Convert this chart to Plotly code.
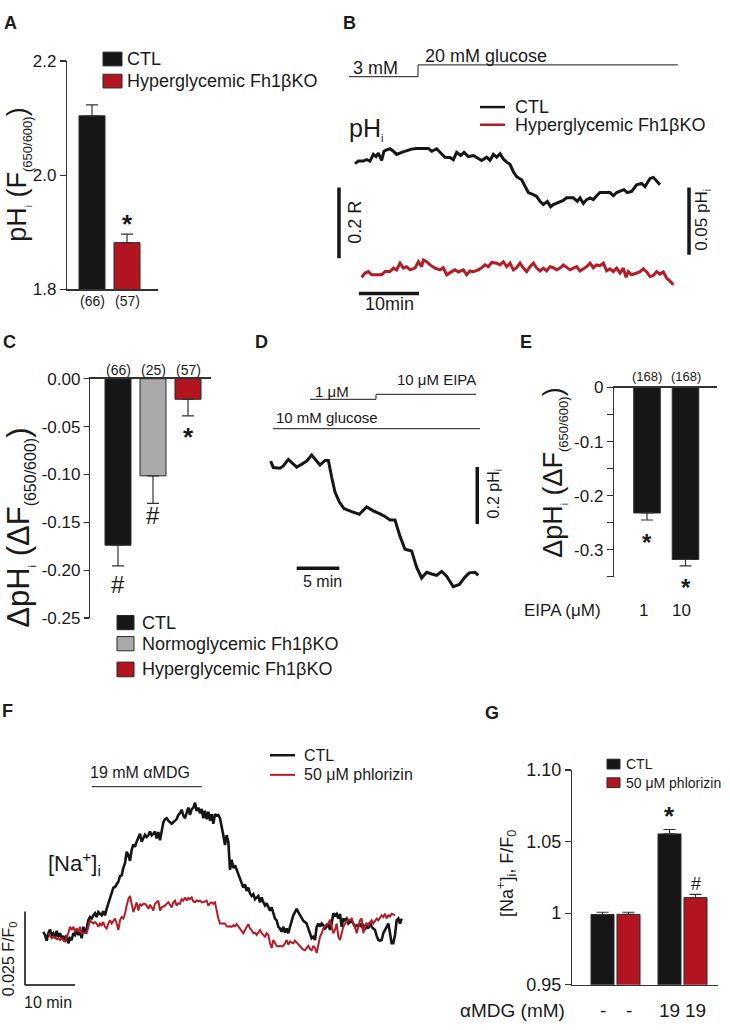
import plotly.graph_objects as go

W, H = 730, 1030
FONT = "Liberation Sans, Arial, Helvetica, sans-serif"
INK = "#1b1b1b"
AXC = "#333333"
BLACK = "#161616"
RED = "#b2151f"
RED_LINE = "#b71c26"
GRAY = "#a9a9a9"
EDGE = "#2b2b2b"

# ======================= DATA =======================
# --- A: resting pHi, F(650/600) ---
a_groups = ["CTL", "Hyperglycemic Fh1βKO"]
a_mean = [2.104, 1.882]
a_sem = [0.019, 0.015]
a_n = ["(66)", "(57)"]
a_tickvals = [1.8, 2.0, 2.2]
a_ticktext = ["1.8", "2.0", "2.2"]

# --- B: pHi traces (ratio R) vs time (min) ---
b_ctl_t = [1.0, 1.56, 2.39, 2.94, 3.5, 4.06, 4.5, 4.89, 5.44, 5.83, 6.28, 6.83, 7.39, 7.94,
           8.78, 9.61, 10.44, 11.28, 12.39, 13.22, 13.78, 14.61, 15.17, 16.0, 16.83, 17.39,
           17.94, 18.61, 19.17, 19.89, 20.72, 21.39, 22.11, 22.94, 23.5, 24.06, 24.61, 25.17,
           25.72, 26.28, 26.83, 27.39, 27.94, 28.78, 29.33, 29.89, 30.72, 31.28, 31.83, 32.39,
           33.06, 33.61, 34.06, 34.89, 35.72, 36.28, 37.39, 38.06, 38.5, 39.06, 39.61, 40.17,
           40.72, 41.28, 41.83, 43.5, 44.06, 44.61, 45.83, 46.39, 47.11, 47.94, 48.78, 49.33,
           50.17, 50.72, 51.28, 51.83]
b_ctl_r = [2.076, 2.083, 2.083, 2.087, 2.083, 2.102, 2.096, 2.106, 2.085, 2.111, 2.115, 2.118,
           2.111, 2.102, 2.108, 2.113, 2.117, 2.119, 2.119, 2.119, 2.111, 2.118, 2.108, 2.094,
           2.093, 2.087, 2.108, 2.099, 2.108, 2.096, 2.099, 2.093, 2.085, 2.094, 2.085, 2.102,
           2.094, 2.104, 2.089, 2.080, 2.074, 2.053, 2.039, 2.030, 2.011, 1.994, 1.988, 1.983,
           1.969, 1.960, 1.969, 1.954, 1.960, 1.965, 1.972, 1.979, 1.979, 1.969, 1.979, 1.963,
           1.974, 1.979, 1.974, 1.985, 1.994, 1.994, 1.985, 1.994, 2.002, 1.994, 1.997, 2.016,
           2.020, 2.011, 2.034, 2.037, 2.025, 2.016]
b_hyp_t = [2.11, 2.67, 3.22, 3.78, 4.61, 5.44, 6.0, 6.83, 7.39, 7.94, 8.5, 9.06, 9.61, 10.17,
           11.0, 11.56, 12.11, 12.39, 12.94, 13.5, 14.33, 15.17, 15.72, 16.28, 17.11, 17.67,
           18.22, 19.06, 19.61, 20.17, 20.72, 21.56, 22.11, 22.67, 23.22, 23.78, 24.61, 25.17,
           25.72, 26.28, 26.83, 27.39, 27.94, 28.5, 29.06, 29.61, 30.17, 30.72, 31.28, 31.83,
           32.39, 32.94, 33.5, 34.06, 34.61, 35.17, 35.72, 36.28, 36.83, 37.39, 37.94, 38.5,
           39.06, 39.61, 40.17, 40.72, 41.28, 41.83, 42.39, 42.94, 43.5, 44.06, 44.61, 45.17,
           45.72, 46.17, 46.56, 47.11, 47.94, 48.5, 49.06, 49.61, 50.17, 50.72, 51.28, 51.83,
           52.39, 52.94, 53.5, 54.06]
b_hyp_r = [1.754, 1.766, 1.770, 1.761, 1.761, 1.761, 1.770, 1.770, 1.780, 1.775, 1.794, 1.780,
           1.784, 1.775, 1.780, 1.798, 1.784, 1.803, 1.798, 1.789, 1.780, 1.775, 1.781, 1.761,
           1.770, 1.775, 1.769, 1.775, 1.761, 1.772, 1.770, 1.775, 1.781, 1.789, 1.784, 1.796,
           1.794, 1.789, 1.798, 1.784, 1.794, 1.775, 1.781, 1.794, 1.780, 1.770, 1.784, 1.794,
           1.780, 1.772, 1.780, 1.772, 1.784, 1.781, 1.775, 1.780, 1.789, 1.781, 1.775, 1.780,
           1.784, 1.772, 1.778, 1.784, 1.794, 1.781, 1.789, 1.787, 1.794, 1.772, 1.778, 1.770,
           1.780, 1.766, 1.780, 1.754, 1.770, 1.761, 1.766, 1.770, 1.778, 1.769, 1.756, 1.759,
           1.770, 1.763, 1.769, 1.752, 1.743, 1.733]
b_series = ["CTL", "Hyperglycemic Fh1βKO"]
b_glucose_labels = ["3 mM", "20 mM glucose"]
b_glucose_switch_min = 11.5
b_glucose_end_min = 54.8
b_scale_R = 0.2          # vertical scale bar, ratio units
b_scale_pH_as_R = 0.19   # 0.05 pHi expressed in R
b_scale_min = 10

# --- C: delta pHi after glucose ---
c_groups = ["CTL", "Normoglycemic Fh1βKO", "Hyperglycemic Fh1βKO"]
c_mean = [-0.174, -0.1015, -0.0215]
c_sem = [0.0215, 0.0287, 0.0174]
c_n = ["(66)", "(25)", "(57)"]
c_sig = ["#", "#", "*"]
c_tickvals = [0, -0.05, -0.10, -0.15, -0.20, -0.25]
c_ticktext = ["0.00", "-0.05", "-0.10", "-0.15", "-0.20", "-0.25"]

# --- D: EIPA trace (pHi) vs time (min) ---
d_t = [0.08, 0.39, 1.17, 1.56, 2.15, 2.54, 3.13, 3.71, 4.30, 4.88, 5.47, 5.86, 6.45, 6.84,
       7.23, 7.62, 8.13, 8.67, 9.57, 10.47, 11.33, 12.11, 12.89, 13.48, 14.06, 14.65, 15.23,
       15.82, 16.60, 17.19, 17.77, 18.36, 18.95, 19.53, 20.12, 20.70, 21.48, 22.19, 22.85,
       23.36, 24.02, 24.41]
d_ph = [7.231, 7.208, 7.206, 7.214, 7.237, 7.225, 7.210, 7.220, 7.231, 7.252, 7.229, 7.217,
        7.233, 7.233, 7.174, 7.122, 7.087, 7.064, 7.053, 7.044, 7.070, 7.056, 7.045, 7.036,
        7.024, 7.024, 6.967, 6.921, 6.915, 6.857, 6.820, 6.840, 6.834, 6.829, 6.843, 6.826,
        6.789, 6.797, 6.823, 6.838, 6.840, 6.829]
d_eipa_on_min, d_eipa_switch_min, d_eipa_end_min = 4.69, 12.42, 24.14
d_glucose_on_min, d_glucose_end_min = 0.35, 24.61
d_scale_pH = 0.2
d_scale_min = 5

# --- E: EIPA dose ---
e_eipa = ["1", "10"]
e_mean = [-0.232, -0.318]
e_sem = [0.013, 0.012]
e_n = ["(168)", "(168)"]
e_tickvals = [0, -0.1, -0.2, -0.3]
e_ticktext = ["0", "-0.1", "-0.2", "-0.3"]
e_minorvals = [-0.05, -0.15, -0.25, -0.35]

# --- F: [Na+]i traces, F/F0, sampled every 20 s ---
f_dt_min = 1.0 / 3.0
f_ctl_start_min = 0.0
f_phl_start_min = 1.0
f_ctl = [1.0011, 1.0000, 0.9981, 1.0006, 1.0019, 1.0000, 1.0006, 0.9989, 1.0014, 0.9994,
         1.0006, 0.9989, 0.9997, 0.9978, 1.0000, 0.9972, 0.9989, 0.9983, 1.0006, 1.0000,
         1.0017, 1.0000, 1.0011, 0.9989, 1.0028, 1.0006, 1.0022, 1.0050, 1.0061, 1.0056,
         1.0067, 1.0074, 1.0061, 1.0078, 1.0072, 1.0067, 1.0081, 1.0067, 1.0089, 1.0106,
         1.0128, 1.0141, 1.0161, 1.0163, 1.0172, 1.0181, 1.0200, 1.0203, 1.0228, 1.0244,
         1.0283, 1.0272, 1.0252, 1.0289, 1.0308, 1.0300, 1.0317, 1.0333, 1.0344, 1.0317,
         1.0328, 1.0341, 1.0333, 1.0339, 1.0352, 1.0339, 1.0344, 1.0352, 1.0328, 1.0350,
         1.0322, 1.0361, 1.0383, 1.0394, 1.0397, 1.0389, 1.0383, 1.0378, 1.0383, 1.0389,
         1.0394, 1.0408, 1.0414, 1.0426, 1.0406, 1.0397, 1.0419, 1.0433, 1.0408, 1.0428,
         1.0433, 1.0450, 1.0422, 1.0433, 1.0414, 1.0428, 1.0397, 1.0422, 1.0394, 1.0419,
         1.0389, 1.0411, 1.0378, 1.0411, 1.0406, 1.0408, 1.0397, 1.0372, 1.0339, 1.0306,
         1.0339, 1.0317, 1.0222, 1.0256, 1.0228, 1.0237, 1.0222, 1.0211, 1.0194, 1.0178,
         1.0161, 1.0172, 1.0150, 1.0161, 1.0141, 1.0133, 1.0139, 1.0122, 1.0128, 1.0133,
         1.0111, 1.0128, 1.0111, 1.0100, 1.0108, 1.0094, 1.0083, 1.0094, 1.0072, 1.0056,
         1.0050, 1.0028, 1.0022, 1.0011, 1.0028, 1.0008, 1.0022, 1.0006, 1.0028, 1.0050,
         1.0067, 1.0078, 1.0089, 1.0078, 1.0067, 1.0061, 1.0048, 1.0044, 1.0039, 1.0022,
         1.0006, 0.9989, 0.9994, 0.9983, 1.0028, 1.0039, 1.0028, 1.0039, 1.0033, 1.0022,
         1.0028, 1.0039, 1.0017, 1.0039, 1.0074, 1.0067, 1.0072, 1.0056, 1.0072, 1.0028,
         1.0056, 1.0050, 1.0056, 1.0039, 1.0044, 1.0048, 1.0039, 1.0028, 1.0033, 1.0030,
         1.0039, 1.0028, 1.0033, 1.0017, 1.0039, 1.0022, 1.0044, 1.0028, 1.0022, 1.0017,
         0.9997, 0.9983, 0.9981, 0.9983, 1.0006, 1.0017, 1.0028, 1.0039, 1.0006, 0.9972,
         0.9972, 1.0000, 1.0050, 1.0056, 1.0039, 1.0056]
f_phl = [1.0006, 0.9997, 0.9989, 0.9994, 0.9992, 0.9986, 0.9989, 0.9983, 0.9989, 0.9981,
         0.9978, 0.9994, 1.0006, 1.0028, 1.0017, 1.0028, 1.0011, 1.0022, 1.0011, 1.0028,
         1.0006, 1.0006, 1.0008, 1.0006, 1.0028, 1.0050, 1.0044, 1.0039, 1.0044, 1.0039,
         1.0028, 1.0039, 1.0033, 1.0044, 1.0028, 1.0022, 1.0039, 1.0050, 1.0039, 1.0050,
         1.0056, 1.0039, 1.0017, 1.0050, 1.0061, 1.0056, 1.0072, 1.0100, 1.0122, 1.0133,
         1.0100, 1.0078, 1.0094, 1.0111, 1.0083, 1.0106, 1.0100, 1.0106, 1.0106, 1.0100,
         1.0089, 1.0103, 1.0094, 1.0083, 1.0106, 1.0111, 1.0117, 1.0083, 1.0094, 1.0097,
         1.0100, 1.0106, 1.0111, 1.0103, 1.0094, 1.0111, 1.0117, 1.0100, 1.0108, 1.0106,
         1.0122, 1.0117, 1.0128, 1.0117, 1.0126, 1.0122, 1.0128, 1.0114, 1.0111, 1.0117,
         1.0114, 1.0117, 1.0111, 1.0111, 1.0114, 1.0117, 1.0100, 1.0108, 1.0111, 1.0106,
         1.0111, 1.0078, 1.0056, 1.0039, 1.0039, 1.0041, 1.0039, 1.0030, 1.0028, 1.0030,
         1.0028, 1.0033, 1.0030, 1.0037, 1.0030, 1.0022, 1.0017, 1.0006, 1.0017, 1.0030,
         1.0037, 1.0022, 1.0017, 1.0006, 1.0008, 1.0000, 1.0011, 1.0017, 1.0006, 1.0000,
         0.9994, 1.0006, 1.0000, 0.9972, 0.9956, 0.9983, 0.9972, 0.9963, 0.9961, 0.9963,
         0.9961, 0.9963, 0.9972, 0.9983, 0.9967, 0.9978, 0.9974, 0.9972, 0.9981, 0.9974,
         0.9967, 0.9961, 0.9956, 0.9950, 0.9948, 0.9956, 0.9963, 0.9952, 0.9948, 0.9963,
         0.9956, 0.9939, 0.9972, 0.9994, 1.0006, 1.0022, 1.0030, 1.0037, 1.0039, 1.0052,
         1.0028, 1.0006, 1.0017, 1.0039, 0.9994, 0.9983, 1.0006, 1.0028, 1.0039, 1.0044,
         1.0052, 1.0050, 1.0056, 1.0039, 1.0028, 1.0006, 1.0028, 1.0050, 1.0056, 1.0006,
         1.0028, 1.0039, 1.0033, 1.0041, 1.0050, 1.0039, 1.0050, 1.0056, 1.0050, 1.0059,
         1.0067, 1.0061, 1.0072, 1.0056, 1.0067, 1.0063, 1.0072, 1.0070, 1.0067]
f_series = ["CTL", "50 μM phlorizin"]
f_amdg_on_min, f_amdg_off_min = 9.7, 31.7
f_scale_ff0 = 0.025
f_scale_min = 10

# --- G: [Na+]i, F/F0 ---
g_amdg = ["0", "19"]
g_amdg_labels = ["-", "19"]
g_ctl_mean = [0.999, 1.0553]
g_ctl_sem = [0.0016, 0.0031]
g_phl_mean = [0.9991, 1.0108]
g_phl_sem = [0.0015, 0.0023]
g_tickvals = [0.95, 1.0, 1.05, 1.10]
g_ticktext = ["0.95", "1", "1.05", "1.10"]

assert len(b_ctl_t) == len(b_ctl_r) and len(b_hyp_t) == len(b_hyp_r) and len(d_t) == len(d_ph)

# ======================= LAYOUT HELPERS =======================
def xdom(a, b):
    return [a / W, b / W]


def ydom(top, bottom):
    return [1 - bottom / H, 1 - top / H]


def px(x):
    return x / W


def py(y):
    return 1 - y / H


def lin_x(left, right, px0, v0, ppu):
    return [v0 + (left - px0) / ppu, v0 + (right - px0) / ppu]


def lin_y(top, bottom, py0, v0, ppu):
    return [v0 - (bottom - py0) / ppu, v0 + (py0 - top) / ppu]


def cat_range(left, right, first_center, spacing):
    return [(left - first_center) / spacing, (right - first_center) / spacing]


def yaxis_num(domain, rng, tickvals, ticktext, anchor, ticklen=6, size=17, minorvals=None):
    ax = dict(domain=domain, range=rng, tickmode="array", tickvals=tickvals, ticktext=ticktext,
              ticks="outside", ticklen=ticklen, tickwidth=1.2, tickcolor=AXC, showline=True,
              linecolor=AXC, linewidth=1.2, showgrid=False, zeroline=False,
              tickfont=dict(size=size, color=INK, family=FONT), anchor=anchor, fixedrange=True)
    if minorvals:
        ax["minor"] = dict(tickmode="array", tickvals=minorvals, ticks="outside", ticklen=ticklen,
                           tickwidth=1.2, tickcolor=AXC, showgrid=False)
    return ax


def xaxis_cat(domain, rng, cats, anchor, side="bottom"):
    return dict(domain=domain, range=rng, type="category", categoryorder="array",
                categoryarray=cats, showline=True, linecolor=AXC, linewidth=1.2, ticks="",
                showticklabels=False, showgrid=False, zeroline=False, anchor=anchor, side=side,
                fixedrange=True)


def hidden(domain, rng, anchor):
    return dict(domain=domain, range=rng, visible=False, showgrid=False, zeroline=False,
                anchor=anchor, fixedrange=True)


def err(sem, up):
    return dict(type="data", symmetric=False,
                array=[s if up else 0 for s in sem],
                arrayminus=[0 if up else s for s in sem],
                color=AXC, thickness=1.2, width=6)


annotations = []
shapes = []


def text(s, x, y, size, xanchor="left", angle=0, bold=False, color=INK):
    if bold:
        s = "<b>" + s + "</b>"
    annotations.append(dict(text=s, x=px(x), y=py(y), xref="paper", yref="paper",
                            xanchor=xanchor, yanchor="middle", showarrow=False,
                            textangle=angle, font=dict(size=size, color=color, family=FONT)))


def cat_text(s, xref, xval, y, size, bold=False, xshift=0):
    if bold:
        s = "<b>" + s + "</b>"
    annotations.append(dict(text=s, x=xval, y=py(y), xref=xref, yref="paper",
                            xanchor="center", yanchor="middle", showarrow=False, xshift=xshift,
                            font=dict(size=size, color=INK, family=FONT)))


def star(xref, xval, glyph_y, size=26):
    # asterisk glyph sits high in its text box; shift anchor down by ~0.21 em
    cat_text("*", xref, xval, glyph_y + 0.21 * size, size, bold=True)


def pline(x0, y0, x1, y1, color=AXC, width=1.2):
    shapes.append(dict(type="line", xref="paper", yref="paper", x0=px(x0), y0=py(y0),
                       x1=px(x1), y1=py(y1), line=dict(color=color, width=width)))


def prect(x0, y0, x1, y1, fill):
    shapes.append(dict(type="rect", xref="paper", yref="paper", x0=px(x0), y0=py(y0),
                       x1=px(x1), y1=py(y1), fillcolor=fill, line=dict(color=EDGE, width=1)))


def dline(xref, yref, x0, y0, x1, y1, color=BLACK, width=3.5):
    shapes.append(dict(type="line", xref=xref, yref=yref, x0=x0, y0=y0, x1=x1, y1=y1,
                       line=dict(color=color, width=width)))


def tline(xref, t0, y0, t1, y1, color="#444444", width=1.2):
    # stimulus bar: time in data units, height in page position
    shapes.append(dict(type="line", xref=xref, yref="paper", x0=t0, y0=py(y0), x1=t1,
                       y1=py(y1), line=dict(color=color, width=width)))


traces = []

# ======================= PANEL A =======================
a_colors = [BLACK, RED]
for i, g in enumerate(a_groups):
    traces.append(go.Bar(x=[g], y=[a_mean[i]], error_y=err([a_sem[i]], True), name=g,
                         marker=dict(color=a_colors[i], line=dict(color=EDGE, width=1)),
                         width=0.743, offsetgroup="a", xaxis="x", yaxis="y", showlegend=False))
prect(103, 43, 122, 57, BLACK)
prect(103, 65.5, 122, 79.5, RED)
text(a_groups[0], 125, 50, 18)
text(a_groups[1], 125, 72.5, 18)
for i, n in enumerate(a_n):
    cat_text(n, "x", i, 297, 14)
star("x", 1, 213)
text('pH<sub><span style="font-size:10px">i</span></sub> (F<sub><span style="font-size:13px">(650/600)</span></sub>)',
     19, 168, 27, xanchor="center", angle=-90)

# ======================= PANEL B =======================
b_colors = [BLACK, RED_LINE]
traces.append(go.Scatter(x=b_ctl_t, y=b_ctl_r, mode="lines", name=b_series[0],
                         line=dict(color=b_colors[0], width=3), xaxis="x2", yaxis="y2",
                         showlegend=False))
traces.append(go.Scatter(x=b_hyp_t, y=b_hyp_r, mode="lines", name=b_series[1],
                         line=dict(color=b_colors[1], width=3), xaxis="x2", yaxis="y2",
                         showlegend=False))
tline("x2", 0, 68, b_glucose_switch_min, 68)
tline("x2", b_glucose_switch_min, 68, b_glucose_switch_min, 56)
tline("x2", b_glucose_switch_min, 56, b_glucose_end_min, 56)
text(b_glucose_labels[0], 351, 59, 18)
text(b_glucose_labels[1], 423, 46.5, 18)
pline(480, 99, 505, 99, BLACK, 2.5)
pline(480, 117, 505, 117, RED_LINE, 2.5)
text(b_series[0], 513, 99, 18)
text(b_series[1], 513, 117, 18)
text('pH<sub><span style="font-size:11px">i</span></sub>', 347, 121, 25)
dline("x2", "y2", -1.67, 2.008, -1.67, 2.008 - b_scale_R)
dline("x2", "y2", 56.67, 2.008, 56.67, 2.008 - b_scale_pH_as_R)
dline("x2", "y2", 1.67, 1.708, 1.67 + b_scale_min, 1.708)
text("0.2 R", 355, 217, 18, xanchor="center", angle=-90)
text('0.05 pH<sub><span style="font-size:10px">i</span></sub>', 703, 214, 17, xanchor="center", angle=-90)
text("10min", 389, 300, 18, xanchor="center")

# ======================= PANEL C =======================
c_colors = [BLACK, GRAY, RED]
for i, g in enumerate(c_groups):
    traces.append(go.Bar(x=[g], y=[c_mean[i]], error_y=err([c_sem[i]], False), name=g,
                         marker=dict(color=c_colors[i], line=dict(color=EDGE, width=1)),
                         width=0.743, offsetgroup="c", xaxis="x3", yaxis="y3", showlegend=False))
for i, n in enumerate(c_n):
    cat_text(n, "x3", i, 367.5, 14)
cat_text(c_sig[0], "x3", 0, 586, 24)
cat_text(c_sig[1], "x3", 1, 516, 24)
star("x3", 2, 430.5)
prect(117, 617.5, 134, 632, BLACK)
prect(117, 639, 134, 653.5, GRAY)
prect(117, 665, 134, 680, RED)
text(c_groups[0], 140, 624.8, 18)
text(c_groups[1], 140, 646.5, 18)
text(c_groups[2], 140, 672.5, 18)
text('ΔpH<sub><span style="font-size:11px">i</span></sub> (ΔF<sub><span style="font-size:16px">(650/600)</span></sub>)',
     20, 528, 31, xanchor="center", angle=-90)

# ======================= PANEL D =======================
traces.append(go.Scatter(x=d_t, y=d_ph, mode="lines", name="pHi", line=dict(color=BLACK, width=3),
                         xaxis="x4", yaxis="y4", showlegend=False))
tline("x4", d_eipa_on_min, 397, d_eipa_switch_min, 397)
tline("x4", d_eipa_switch_min, 397, d_eipa_switch_min, 392)
tline("x4", d_eipa_switch_min, 392, d_eipa_end_min, 392)
tline("x4", d_glucose_on_min, 427, d_glucose_end_min, 427)
text("1 μM", 313, 389.5, 15)
text("10 μM EIPA", 478, 377, 15, xanchor="right")
text("10 mM glucose", 274, 415.5, 15)
dline("x4", "y4", 24.29, 7.21, 24.29, 7.21 - d_scale_pH)
dline("x4", "y4", 3.13, 6.854, 3.13 + d_scale_min, 6.854)
text("5 min", 322, 582.5, 16, xanchor="center")
text('0.2 pH<sub><span style="font-size:10px">i</span></sub>', 494, 494, 16, xanchor="center", angle=-90)

# ======================= PANEL E =======================
traces.append(go.Bar(x=e_eipa, y=e_mean, error_y=err(e_sem, False), name="EIPA",
                     marker=dict(color=BLACK, line=dict(color=EDGE, width=1)), width=0.69,
                     offsetgroup="e", xaxis="x5", yaxis="y5", showlegend=False))
for i, n in enumerate(e_n):
    cat_text(n, "x5", i, 374, 13)
    cat_text(e_eipa[i], "x5", i, 612, 17, xshift=-4)
star("x5", 0, 538, size=24)
star("x5", 1, 584, size=24)
text("EIPA (μM)", 522, 612, 17)
text('ΔpH<sub><span style="font-size:10px">i</span></sub> (ΔF<sub><span style="font-size:13px">(650/600)</span></sub>)',
     555, 472, 27, xanchor="center", angle=-90)

# ======================= PANEL F =======================
f_ctl_t = [f_ctl_start_min + i * f_dt_min for i in range(len(f_ctl))]
f_phl_t = [f_phl_start_min + i * f_dt_min for i in range(len(f_phl))]
traces.append(go.Scatter(x=f_ctl_t, y=f_ctl, mode="lines", name=f_series[0],
                         line=dict(color=BLACK, width=2.6), xaxis="x6", yaxis="y6", showlegend=False))
traces.append(go.Scatter(x=f_phl_t, y=f_phl, mode="lines", name=f_series[1],
                         line=dict(color=RED_LINE, width=2), xaxis="x6", yaxis="y6", showlegend=False))
tline("x6", f_amdg_on_min, 792, f_amdg_off_min, 792)
text("19 mM αMDG", 88, 778, 16)
pline(270, 760, 295, 760, BLACK, 2.5)
pline(270, 780, 295, 780, RED_LINE, 2)
text(f_series[0], 302, 760, 16)
text(f_series[1], 302, 780, 16)
text('[Na<sup>+</sup>]<sub>i</sub>', 46, 870, 22)
dline("x6", "y6", -3.67, 0.983 + f_scale_ff0, -3.67, 0.983, color="#444444", width=2)
dline("x6", "y6", -3.67, 0.983, -3.67 + f_scale_min, 0.983, color="#444444", width=2)
text('0.025 F/F<sub>0</sub>', 9, 968, 16, xanchor="center", angle=-90)
text("10 min", 22, 1012, 16)

# ======================= PANEL G =======================
G_BARGAP = 0.224
G_GROUPGAP = 0.115
traces.append(go.Bar(x=g_amdg, y=g_ctl_mean, error_y=err(g_ctl_sem, True), name="CTL",
                     marker=dict(color=BLACK, line=dict(color=EDGE, width=1)),
                     offsetgroup="g_ctl", xaxis="x7", yaxis="y7", showlegend=False))
traces.append(go.Bar(x=g_amdg, y=g_phl_mean, error_y=err(g_phl_sem, True), name="50 μM phlorizin",
                     marker=dict(color=RED, line=dict(color=EDGE, width=1)),
                     offsetgroup="g_phl", xaxis="x7", yaxis="y7", showlegend=False))
g_off = (1 - G_BARGAP) / 4.0
for i, lab in enumerate(g_amdg_labels):
    cat_text(lab, "x7", i - g_off, 1020, 19)
    cat_text(lab, "x7", i + g_off, 1020, 19)
star("x7", 1 - g_off, 817)
cat_text("#", "x7", 1 + g_off, 891.5, 18)
text("αMDG (mM)", 567, 1020, 19, xanchor="right")
prect(607, 764, 620, 774, BLACK)
prect(607, 783, 620, 793, RED)
text("CTL", 624, 769, 14)
text("50 μM phlorizin", 624, 788, 14)
text('[Na<sup>+</sup>]<sub>i</sub>, F/F<sub>0</sub>', 507, 881, 18, xanchor="center", angle=-90)

# ======================= PANEL LETTERS =======================
for letter, (lx, ly) in zip("ABCDEFG", [(10.5, 13.5), (349, 13), (9, 338.5), (261.5, 338.5),
                                         (526, 339), (7.5, 715), (492, 716.5)]):
    text(letter, lx, ly, 18, xanchor="center", bold=True)

# ======================= AXES =======================
layout = dict(
    width=W, height=H, margin=dict(l=0, r=0, t=0, b=0),
    paper_bgcolor="white", plot_bgcolor="rgba(0,0,0,0)",
    showlegend=False, barmode="group", bargap=G_BARGAP, bargroupgap=G_GROUPGAP,
    font=dict(family=FONT, color=INK), hovermode=False,
    xaxis=xaxis_cat(xdom(67, 158), cat_range(67, 158, 92, 35), a_groups, "y"),
    yaxis=yaxis_num(ydom(52, 285), [1.8, 2.2], a_tickvals, a_ticktext, "x", ticklen=6, size=17),
    xaxis2=hidden(xdom(330, 700), lin_x(330, 700, 349, 0.0, 6.0), "y2"),
    yaxis2=hidden(ydom(40, 310), lin_y(40, 310, 130, 2.15, 360.0), "x2"),
    xaxis3=xaxis_cat(xdom(90, 211), cat_range(90, 211, 118, 35), c_groups, "y3", side="top"),
    yaxis3=yaxis_num(ydom(376, 620), [-0.25, 0], c_tickvals, c_ticktext, "x3", ticklen=5, size=17),
    xaxis4=hidden(xdom(255, 500), lin_x(255, 500, 270, 0.0, 8.533), "y4"),
    yaxis4=hidden(ydom(355, 600), lin_y(355, 600, 440, 7.3, 290.0), "x4"),
    xaxis5=xaxis_cat(xdom(614, 717), cat_range(614, 717, 647, 38.5), e_eipa, "y5", side="top"),
    yaxis5=yaxis_num(ydom(385, 578), [-0.35, 0], e_tickvals, e_ticktext, "x5", ticklen=6, size=17,
                     minorvals=e_minorvals),
    xaxis6=hidden(xdom(0, 430), lin_x(0, 430, 43.33, 0.0, 5.0), "y6"),
    yaxis6=hidden(ydom(735, 1030), lin_y(735, 1030, 943.33, 1.0, 3000.0), "x6"),
    xaxis7=xaxis_cat(xdom(572, 718), cat_range(572, 718, 615.5, 67), g_amdg, "y7"),
    yaxis7=yaxis_num(ydom(775, 994), [0.95, 1.10], g_tickvals, g_ticktext, "x7", ticklen=6, size=18),
    annotations=annotations, shapes=shapes,
)

fig = go.Figure(data=traces, layout=layout)
PIN = ("document.documentElement.style.overflow='hidden';"
       "document.body.style.margin='0px';document.body.style.padding='0px';"
       "var gd=document.getElementById('{plot_id}');"
       "gd.style.position='absolute';gd.style.left='0px';gd.style.top='0px';")
fig.write_html("out.html", config={"displayModeBar": False, "staticPlot": True}, post_script=PIN)
